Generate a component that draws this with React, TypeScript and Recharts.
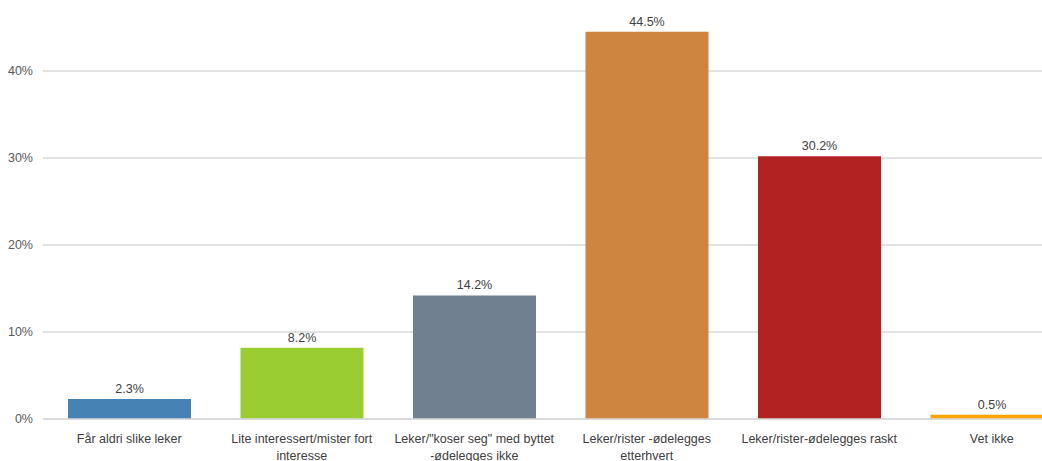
import { BarChart, Bar, XAxis, YAxis, CartesianGrid, Cell, LabelList } from "recharts";

// svarkategorier (linjeskift som i originalen)
const categories = [
  "Får aldri slike leker",
  "Lite interessert/mister fort\ninteresse",
  "Leker/\"koser seg\" med byttet\n-ødelegges ikke",
  "Leker/rister -ødelegges\netterhvert",
  "Leker/rister-ødelegges raskt",
  "Vet ikke",
];
const values = [2.3, 8.2, 14.2, 44.5, 30.2, 0.5];
const colors = ["#4682B4", "#9ACD32", "#708090", "#CD853F", "#B22222", "#FFA500"];
const yTicks = [0, 10, 20, 30, 40, 50];

const data = categories.map((name, i) => ({ name, value: values[i] }));

const FONT = "'Liberation Sans', Arial, sans-serif";

function CategoryTick(props: any) {
  const { x, y, payload } = props;
  const lines = String(payload.value).split("\n");
  return (
    <text x={x} y={y} textAnchor="middle" fill="#404040" fontSize={12.5} fontFamily={FONT}>
      {lines.map((line, i) => (
        <tspan key={i} x={x} dy={i === 0 ? 22 : 17}>
          {line}
        </tspan>
      ))}
    </text>
  );
}

export default function App() {
  // the 50% line sits just above the visible area, like in the original crop
  return (
    <div
      style={{
        position: "absolute",
        left: 0,
        top: 0,
        width: 1042,
        height: 461,
        overflow: "hidden",
        background: "#fff",
      }}
    >
      <div style={{ position: "absolute", left: 0, top: -16 }}>
        <BarChart
          width={1078}
          height={477}
          data={data}
          margin={{ top: 0, right: 0, bottom: 0, left: 0 }}
        >
          <CartesianGrid vertical={false} stroke="#d9d9d9" strokeWidth={1.5} />
          <XAxis
            dataKey="name"
            interval={0}
            height={42}
            tickLine={false}
            tickSize={0}
            axisLine={{ stroke: "#d9d9d9", strokeWidth: 1.5 }}
            tick={<CategoryTick />}
          />
          <YAxis
            width={43}
            domain={[0, 50]}
            ticks={yTicks}
            axisLine={false}
            tickLine={false}
            tickSize={0}
            tickMargin={10}
            tickFormatter={(v) => `${v}%`}
            tick={{ fill: "#595959", fontSize: 12.5, fontFamily: FONT }}
          />
          <Bar dataKey="value" barSize={123} isAnimationActive={false}>
            {data.map((d, i) => (
              <Cell key={d.name} fill={colors[i]} />
            ))}
            <LabelList
              dataKey="value"
              position="top"
              offset={6}
              formatter={(v: any) => `${Number(v).toFixed(1)}%`}
              style={{ fill: "#404040", fontSize: 12.5, fontFamily: FONT }}
            />
          </Bar>
        </BarChart>
      </div>
    </div>
  );
}
